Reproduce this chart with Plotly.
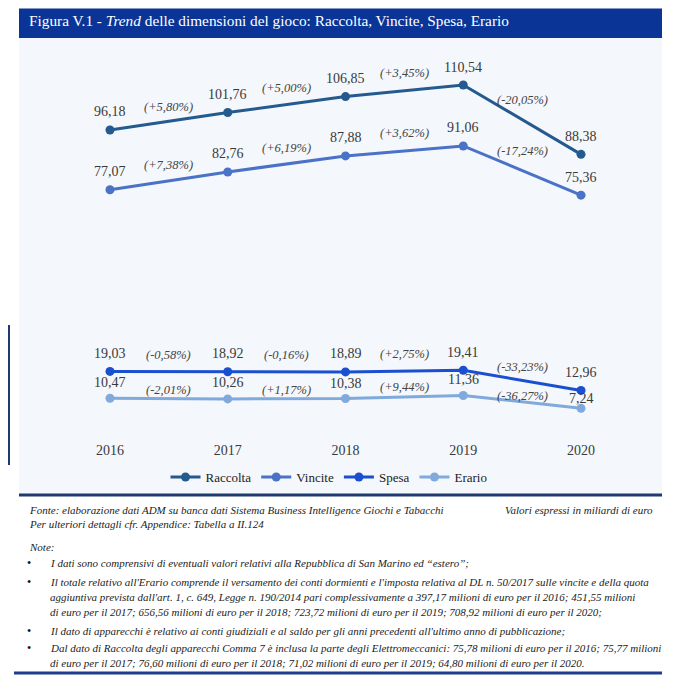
import plotly.graph_objects as go

years = [2016, 2017, 2018, 2019, 2020]
raccolta = [96.18, 101.76, 106.85, 110.54, 88.38]
vincite = [77.07, 82.76, 87.88, 91.06, 75.36]
spesa = [19.03, 18.92, 18.89, 19.41, 12.96]
erario = [10.47, 10.26, 10.38, 11.36, 7.24]

pct_raccolta = ["(+5,80%)", "(+5,00%)", "(+3,45%)", "(-20,05%)"]
pct_vincite = ["(+7,38%)", "(+6,19%)", "(+3,62%)", "(-17,24%)"]
pct_spesa = ["(-0,58%)", "(-0,16%)", "(+2,75%)", "(-33,23%)"]
pct_erario = ["(-2,01%)", "(+1,17%)", "(+9,44%)", "(-36,27%)"]

series = [
    ("Raccolta", raccolta, pct_raccolta, "#245a8e", [18, 18, 18, 18, 18], [14, 17, 18, 20]),
    ("Vincite", vincite, pct_vincite, "#4a72c6", [18, 18, 18, 18, 18], [16, 16, 18, 20]),
    ("Spesa", spesa, pct_spesa, "#1a4fcf", [18, 18, 18, 18, 18], [17, 17, 17, 13]),
    ("Erario", erario, pct_erario, "#80a9dc", [16, 16, 15, 16, 10], [9, 9, 10, 6]),
]

SERIF = "Liberation Serif, DejaVu Serif, serif"
fig = go.Figure()
annotations = []
for name, vals, pcts, col, vshift, pshift in series:
    fig.add_trace(go.Scatter(
        x=years, y=vals, name=name, mode="lines+markers",
        line=dict(color=col, width=3), marker=dict(color=col, size=9),
        hoverinfo="skip"))
    for i, (xv, yv) in enumerate(zip(years, vals)):
        annotations.append(dict(
            x=xv, y=yv, xref="x", yref="y", text=f"{yv:.2f}".replace(".", ","),
            showarrow=False, yshift=vshift[i], font=dict(family=SERIF, size=14, color="#3a3a3a")))
    for i, p in enumerate(pcts):
        annotations.append(dict(
            x=(years[i] + years[i + 1]) / 2, y=(vals[i] + vals[i + 1]) / 2, xref="x", yref="y",
            text=f"<i>{p}</i>", showarrow=False, yshift=pshift[i],
            font=dict(family=SERIF, size=12.5, color="#444444")))

OFF = 8
W, H = 690 - OFF, 681 - OFF
def px(x):
    return (x - OFF) / W
def py(y):
    return 1 - (y - OFF) / H

shapes = [
    dict(type="rect", xref="paper", yref="paper", x0=px(19), x1=px(662), y0=py(494), y1=py(37),
         fillcolor="#f4f7fb", line=dict(width=0), layer="below"),
    dict(type="rect", xref="paper", yref="paper", x0=px(19), x1=px(662), y0=py(38), y1=py(8.5),
         fillcolor="#0a3597", line=dict(width=0), layer="below"),
    dict(type="line", xref="paper", yref="paper", x0=px(19), x1=px(662), y0=py(495), y1=py(495),
         line=dict(color="#1f3a6e", width=3)),
    dict(type="line", xref="paper", yref="paper", x0=px(14), x1=px(662), y0=py(673), y1=py(673),
         line=dict(color="#1f3d8c", width=3)),
    dict(type="line", xref="paper", yref="paper", x0=px(9), x1=px(9), y0=py(325), y1=py(465),
         line=dict(color="#1f3a6e", width=2)),
]

annotations.append(dict(
    x=px(27), y=py(20), xref="paper", yref="paper", xanchor="left", yanchor="middle",
    text="Figura V.1 - <i>Trend</i> delle dimensioni del gioco: Raccolta, Vincite, Spesa, Erario",
    showarrow=False, font=dict(family=SERIF, size=15.3, color="white")))

footer_font = dict(family=SERIF, size=11, color="#222222")
annotations += [
    dict(x=px(27), y=py(510), xref="paper", yref="paper", xanchor="left", yanchor="middle", showarrow=False,
         text="<i>Fonte: elaborazione dati ADM su banca dati Sistema Business Intelligence Giochi e Tabacchi</i>",
         font=footer_font),
    dict(x=px(655), y=py(510), xref="paper", yref="paper", xanchor="right", yanchor="middle", showarrow=False,
         text="<i>Valori espressi in miliardi di euro</i>", font=footer_font),
    dict(x=px(27), y=py(524), xref="paper", yref="paper", xanchor="left", yanchor="middle", showarrow=False,
         text="<i>Per ulteriori dettagli cfr. Appendice: Tabella a II.124</i>", font=footer_font),
    dict(x=px(27), y=py(547), xref="paper", yref="paper", xanchor="left", yanchor="middle", showarrow=False,
         text="<i>Note:</i>", font=footer_font),
]

note_lines = [
    (563, True, "I dati sono comprensivi di eventuali valori relativi alla Repubblica di San Marino ed “estero”;"),
    (582, True, "Il totale relativo all'Erario comprende il versamento dei conti dormienti e l'imposta relativa al DL n. 50/2017 sulle vincite e della quota"),
    (597, False, "aggiuntiva prevista dall'art. 1, c. 649, Legge n. 190/2014 pari complessivamente a 397,17 milioni di euro per il 2016; 451,55 milioni"),
    (612, False, "di euro per il 2017; 656,56 milioni di euro per il 2018; 723,72 milioni di euro per il 2019; 708,92 milioni di euro per il 2020;"),
    (631, True, "Il dato di apparecchi è relativo ai conti giudiziali e al saldo per gli anni precedenti all'ultimo anno di pubblicazione;"),
    (648, True, "Dal dato di Raccolta degli apparecchi Comma 7 è inclusa la parte degli Elettromeccanici: 75,78 milioni di euro per il 2016; 75,77 milioni"),
    (663, False, "di euro per il 2017; 76,60 milioni di euro per il 2018; 71,02 milioni di euro per il 2019; 64,80 milioni di euro per il 2020."),
]
for yy, bullet, txt in note_lines:
    if bullet:
        annotations.append(dict(x=px(29), y=py(yy), xref="paper", yref="paper", xanchor="center", yanchor="middle",
                                showarrow=False, text="•", font=dict(family=SERIF, size=12, color="#111111")))
    annotations.append(dict(x=px(48), y=py(yy), xref="paper", yref="paper", xanchor="left", yanchor="middle",
                            showarrow=False, text=f"<i>{txt}</i>", font=dict(family=SERIF, size=11, color="#222222")))

fig.update_layout(
    width=W, height=H, margin=dict(l=0, r=0, t=0, b=0),
    paper_bgcolor="white", plot_bgcolor="rgba(0,0,0,0)",
    font=dict(family=SERIF),
    showlegend=True,
    legend=dict(orientation="h", x=px(329), y=py(477), xanchor="center", yanchor="middle",
                font=dict(family=SERIF, size=13, color="#222222"), bgcolor="rgba(0,0,0,0)",
                itemwidth=30, tracegroupgap=0),
    xaxis=dict(domain=[px(51.1), px(639.9)], range=[2015.5, 2020.5], tickvals=years,
               ticktext=[str(y) for y in years], showgrid=False, zeroline=False, showline=False,
               tickfont=dict(family=SERIF, size=14, color="#3a3a3a"), ticks=""),
    yaxis=dict(domain=[py(440.4), py(55.4)], range=[-3, 120], visible=False),
    shapes=shapes, annotations=annotations,
)

fig.write_html("out.html")
